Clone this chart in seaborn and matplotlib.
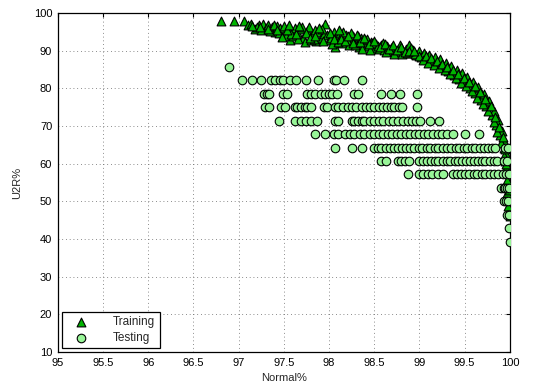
import matplotlib
matplotlib.use("Agg")
import matplotlib.pyplot as plt
import seaborn as sns
import pandas as pd

# Training operating points (Normal%, U2R%)
train_normal = [
    96.80, 96.95, 97.06, 97.10, 97.14, 97.18, 97.22, 97.27, 97.30, 97.33, 97.37, 97.40,
    97.43, 97.46, 97.50, 97.52, 97.55, 97.57, 97.60, 97.62, 97.65, 97.68, 97.71, 97.73,
    97.76, 97.78, 97.81, 97.84, 97.86, 97.88, 97.91, 97.94, 97.96, 97.98, 98.00, 98.02,
    98.05, 98.07, 98.09, 98.12, 98.14, 98.17, 98.19, 98.22, 98.25, 98.27, 98.30, 98.33,
    98.35, 98.38, 98.40, 98.43, 98.46, 98.49, 98.52, 98.55, 98.58, 98.61, 98.64, 98.67,
    98.70, 98.73, 98.76, 98.79, 98.82, 98.85, 98.88, 98.90, 98.93, 98.96, 98.99, 99.02,
    99.05, 99.08, 99.11, 99.14, 99.17, 99.20, 99.23, 99.26, 99.29, 99.32, 99.35, 99.38,
    99.41, 99.44, 99.47, 99.50, 99.53, 99.56, 99.59, 99.62, 99.65, 99.68, 99.71, 99.74,
    99.77, 99.80, 99.83, 99.85, 99.87, 99.89, 99.91, 99.93, 99.94, 99.95, 99.96, 99.97,
    99.98, 99.98, 99.99, 100.0,
    97.20, 97.25, 97.35, 97.45, 97.48, 97.58, 97.66, 97.70, 97.80, 97.83, 97.92, 98.03,
    98.10, 98.15, 98.20, 98.24, 98.29, 98.32, 98.37, 98.42, 98.45, 98.48, 98.54, 98.60,
    98.63, 98.68, 98.72, 98.78, 98.81, 98.86, 98.91, 98.95, 99.00, 99.04, 99.07, 99.10,
    99.13, 99.16, 99.19, 99.22, 99.25, 99.28, 99.31, 99.34, 99.37, 99.40, 99.43, 99.46,
    99.49, 99.52, 99.55, 99.58, 99.61, 99.64, 99.67, 99.70, 99.73, 99.76, 99.79, 99.82,
    99.84, 99.86, 99.88, 99.90, 99.92, 99.94, 99.95, 99.96, 99.97, 99.97, 99.98, 99.99,
    99.96,
    97.15, 97.24, 97.32, 97.39, 97.42, 97.53, 97.56, 97.63, 97.67, 97.74, 97.79, 97.85,
    97.89, 97.93, 98.01, 98.06, 98.11, 98.13, 98.18, 98.21, 98.26, 98.31, 98.34, 98.39,
    98.44, 98.50, 98.56, 98.62, 98.66, 98.71, 98.75, 98.80, 98.84, 98.89, 98.94,
]
train_u2r = [
    98.0, 98.0, 98.0, 96.9, 97.0, 95.8, 96.9, 97.0, 96.0, 96.9, 96.2, 95.0,
    96.5, 96.0, 96.6, 94.0, 95.8, 92.9, 93.8, 96.0, 95.0, 95.8, 93.5, 92.3,
    95.2, 96.2, 94.1, 95.5, 92.5, 95.0, 93.4, 94.5, 97.1, 94.2, 92.8, 93.5,
    95.0, 91.0, 93.9, 94.6, 92.0, 93.5, 94.2, 91.5, 93.0, 94.0, 92.3, 91.0,
    93.3, 92.0, 92.8, 91.2, 92.3, 90.8, 91.8, 90.5, 91.5, 90.2, 91.3, 89.8,
    91.0, 90.3, 89.6, 90.8, 89.9, 90.5, 91.5, 89.5, 90.3, 88.8, 89.8, 88.2,
    89.5, 87.8, 88.9, 87.0, 88.4, 86.6, 87.7, 85.8, 86.8, 84.6, 86.0, 83.6,
    85.0, 82.6, 84.0, 81.3, 83.0, 80.0, 81.8, 78.8, 80.3, 77.0, 78.5, 75.2,
    76.6, 72.8, 74.0, 70.2, 71.5, 67.5, 68.6, 64.3, 66.0, 60.8, 62.5, 57.5,
    54.0, 50.6, 47.5, 46.0,
    96.3, 95.6, 95.3, 94.7, 93.6, 94.5, 93.0, 96.4, 92.8, 93.0, 95.8, 91.8,
    92.4, 95.0, 92.9, 94.8, 91.5, 93.8, 90.5, 93.0, 90.2, 92.0, 91.2, 92.0,
    89.6, 90.6, 89.2, 91.6, 89.0, 89.5, 90.8, 89.2, 88.6, 87.5, 88.6, 86.8,
    88.0, 86.2, 87.3, 85.5, 86.4, 84.8, 85.7, 83.8, 84.8, 82.8, 83.9, 81.5,
    82.7, 80.5, 81.6, 79.2, 80.6, 77.5, 79.0, 75.8, 77.3, 74.0, 75.2, 71.0,
    72.5, 68.5, 69.8, 65.5, 67.0, 62.0, 63.8, 58.8, 55.6, 52.2, 48.9, 53.0,
    60.0,
    96.5, 96.4, 95.7, 96.8, 95.6, 95.4, 96.8, 94.4, 96.6, 94.8, 93.5, 93.8,
    96.0, 92.6, 94.6, 93.2, 95.4, 93.0, 92.5, 94.0, 92.1, 94.3, 92.4, 93.4,
    91.9, 92.6, 90.9, 91.8, 90.4, 91.4, 90.1, 91.1, 89.7, 90.0, 89.9,
]

# Testing operating points: U2R% takes discrete levels, Normal% per level
test_levels = [85.71, 82.14, 78.57, 75.00, 71.43, 67.86, 64.29,
               60.71, 57.14, 53.57, 50.00, 46.43, 42.86, 39.29]
test_normal_by_level = [
    [96.89],
    [97.04, 97.15, 97.25, 97.36, 97.40, 97.46, 97.49, 97.57, 97.64, 97.74, 97.88,
     98.05, 98.08, 98.17, 98.36],
    [97.28, 97.31, 97.34, 97.49, 97.53, 97.76, 97.80, 97.85, 97.91, 97.96, 98.00,
     98.03, 98.09, 98.28, 98.32, 98.58, 98.69, 98.78, 98.97],
    [97.29, 97.34, 97.47, 97.51, 97.62, 97.65, 97.69, 97.73, 97.76, 97.80, 97.94,
     97.98, 98.07, 98.10, 98.16, 98.21, 98.25, 98.30, 98.36, 98.41, 98.45, 98.50,
     98.55, 98.60, 98.64, 98.68, 98.72, 98.77, 98.81, 98.97],
    [97.45, 97.62, 97.69, 97.74, 97.80, 97.87, 98.07, 98.10, 98.25, 98.28, 98.32,
     98.36, 98.39, 98.45, 98.50, 98.55, 98.60, 98.66, 98.71, 98.76, 98.82, 98.87,
     98.92, 98.96, 99.01, 99.12, 99.22],
    [97.85, 97.96, 98.05, 98.10, 98.18, 98.23, 98.28, 98.34, 98.39, 98.45, 98.50,
     98.55, 98.60, 98.65, 98.70, 98.75, 98.80, 98.85, 98.90, 98.95, 99.00, 99.05,
     99.10, 99.15, 99.20, 99.25, 99.31, 99.37, 99.50, 99.66],
    [98.07, 98.25, 98.37, 98.50, 98.54, 98.58, 98.63, 98.67, 98.72, 98.76, 98.81,
     98.85, 98.90, 98.94, 98.99, 99.03, 99.08, 99.12, 99.17, 99.21, 99.26, 99.30,
     99.35, 99.40, 99.44, 99.49, 99.53, 99.58, 99.62, 99.67, 99.71, 99.76, 99.80,
     99.84, 99.95, 99.98],
    [98.57, 98.63, 98.76, 98.80, 98.84, 98.88, 99.00, 99.04, 99.08, 99.13, 99.17,
     99.21, 99.26, 99.30, 99.34, 99.39, 99.43, 99.47, 99.52, 99.56, 99.60, 99.65,
     99.69, 99.73, 99.78, 99.82, 99.86, 99.93, 99.97],
    [98.87, 99.00, 99.04, 99.09, 99.14, 99.20, 99.26, 99.37, 99.41, 99.46, 99.50,
     99.55, 99.60, 99.64, 99.69, 99.73, 99.78, 99.82, 99.87, 99.92, 99.96, 99.99],
    [99.90, 99.93, 99.95, 99.97, 99.99],
    [99.93, 99.96, 99.98],
    [99.97, 99.99],
    [99.99],
    [100.0],
]

x_ticks = [95, 95.5, 96, 96.5, 97, 97.5, 98, 98.5, 99, 99.5, 100]
x_tick_labels = ["95", "95.5", "96", "96.5", "97", "97.5", "98", "98.5", "99", "99.5", "100"]
y_ticks = [10, 20, 30, 40, 50, 60, 70, 80, 90, 100]

train_df = pd.DataFrame({"Normal%": train_normal, "U2R%": train_u2r})
test_df = pd.DataFrame({
    "Normal%": [x for xs in test_normal_by_level for x in xs],
    "U2R%": [lvl for lvl, xs in zip(test_levels, test_normal_by_level) for _ in xs],
})

sns.set_style("white")
plt.rcParams["font.family"] = ["Liberation Sans", "DejaVu Sans"]

fig = plt.figure(figsize=(5.35, 3.89), dpi=100)
ax = fig.add_axes([0.108, 0.095, 0.845, 0.8715])

sns.scatterplot(data=train_df, x="Normal%", y="U2R%", marker="^", s=40,
                color="#00b400", edgecolor="black", linewidth=0.8,
                label="Training", ax=ax, zorder=3)
sns.scatterplot(data=test_df, x="Normal%", y="U2R%", marker="o", s=38,
                color="#98f598", edgecolor="black", linewidth=0.8,
                label="Testing", ax=ax, zorder=4)

ax.set_xlim(95, 100)
ax.set_ylim(10, 100)
ax.set_xticks(x_ticks)
ax.set_xticklabels(x_tick_labels)
ax.set_yticks(y_ticks)
ax.tick_params(direction="in", top=True, right=True, length=3, width=0.8,
               labelsize=8, colors="black", pad=4)
ax.grid(True, linestyle=(0, (1, 3.5)), color="#666666", linewidth=0.6)
for sp in ax.spines.values():
    sp.set_visible(True)
    sp.set_color("black")
    sp.set_linewidth(0.9)

ax.set_xlabel("Normal%", fontsize=8, labelpad=4)
ax.set_ylabel("U2R%", fontsize=8, labelpad=8)

leg = ax.legend(loc="lower left", fontsize=8.5, frameon=True, fancybox=False,
                edgecolor="black", framealpha=1, borderaxespad=0.35,
                handlelength=2.6, handletextpad=1.4, labelspacing=0.35,
                borderpad=0.35)
leg.get_frame().set_linewidth(0.9)

fig.savefig("out.png", dpi=100)
